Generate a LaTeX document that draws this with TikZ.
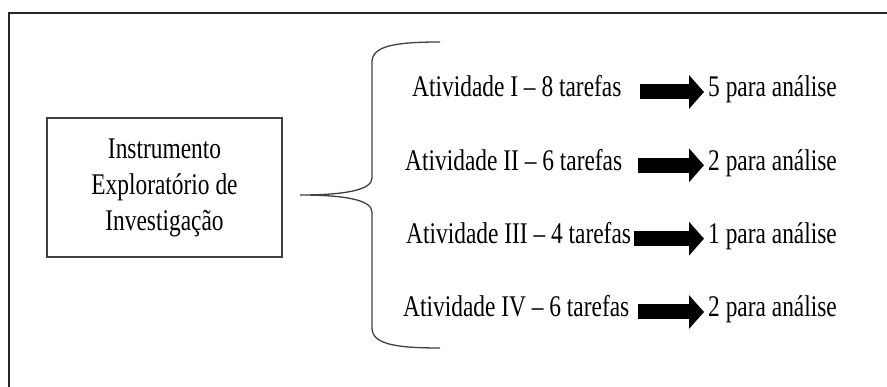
\documentclass[tikz,border=0pt]{standalone}
\usepackage{fontspec}
\setmainfont[FakeStretch=0.78]{Liberation Serif}
\usetikzlibrary{arrows.meta}
\tikzset{
  lbl/.style={inner sep=0pt, font=\fontsize{30}{36}\selectfont},
  rowtxt/.style={lbl, anchor=base west},
  bigarrow/.style={line width=15pt, -{Triangle[length=15pt,width=33pt]}, shorten >=4pt},
  framel/.style={line width=2.5pt, black!85},
  bracel/.style={line width=1.3pt, black!75},
  boxst/.style={draw=black!75, line width=1.2pt, minimum width=235pt, minimum height=139pt, align=center, inner sep=0pt, font=\fontsize{30}{36}\selectfont}
}
\begin{document}
\begin{tikzpicture}[x=1pt,y=-1pt]
\useasboundingbox (0,0) rectangle (887,387);
% outer frame (cut by the picture's edges)
\coordinate (fr) at (887,13);
\coordinate (fc) at (9,13);
\coordinate (fb) at (9,387);
\draw[framel] (fr) -- (fc) -- (fb);
% box
\node[boxst] (box) at (164.5,187.5) {Instrumento\\Exploratório de\\Investigação};
% brace
\coordinate (bt) at (440,42);
\coordinate (bm) at (300,195);
\coordinate (bb) at (440,348);
\draw[bracel] (bt) .. controls (395,42) and (372,46) .. (372,62) -- (372,178)
  .. controls (372,190) and (345,195) .. (bm)
  .. controls (345,195) and (372,200) .. (372,212) -- (372,328)
  .. controls (372,344) and (395,348) .. (bb);
% rows
\node[rowtxt] (l1) at (412,97) {Atividade I – 8 tarefas};
\node[rowtxt] (l2) at (405,170.3) {Atividade II – 6 tarefas};
\node[rowtxt] (l3) at (406,243.7) {Atividade III – 4 tarefas};
\node[rowtxt] (l4) at (403,317) {Atividade IV – 6 tarefas};
\node[rowtxt] (r1) at (708,97) {5 para análise};
\node[rowtxt] (r2) at (708,170.3) {2 para análise};
\node[rowtxt] (r3) at (708,243.7) {1 para análise};
\node[rowtxt] (r4) at (708,317) {2 para análise};
\coordinate (s1) at (640,92);
\coordinate (s2) at (638,165.3);
\coordinate (s3) at (634,238.7);
\coordinate (s4) at (638,312);
\draw[bigarrow] (s1) -- (s1 -| r1.west);
\draw[bigarrow] (s2) -- (s2 -| r2.west);
\draw[bigarrow] (s3) -- (s3 -| r3.west);
\draw[bigarrow] (s4) -- (s4 -| r4.west);
\end{tikzpicture}
\end{document}
